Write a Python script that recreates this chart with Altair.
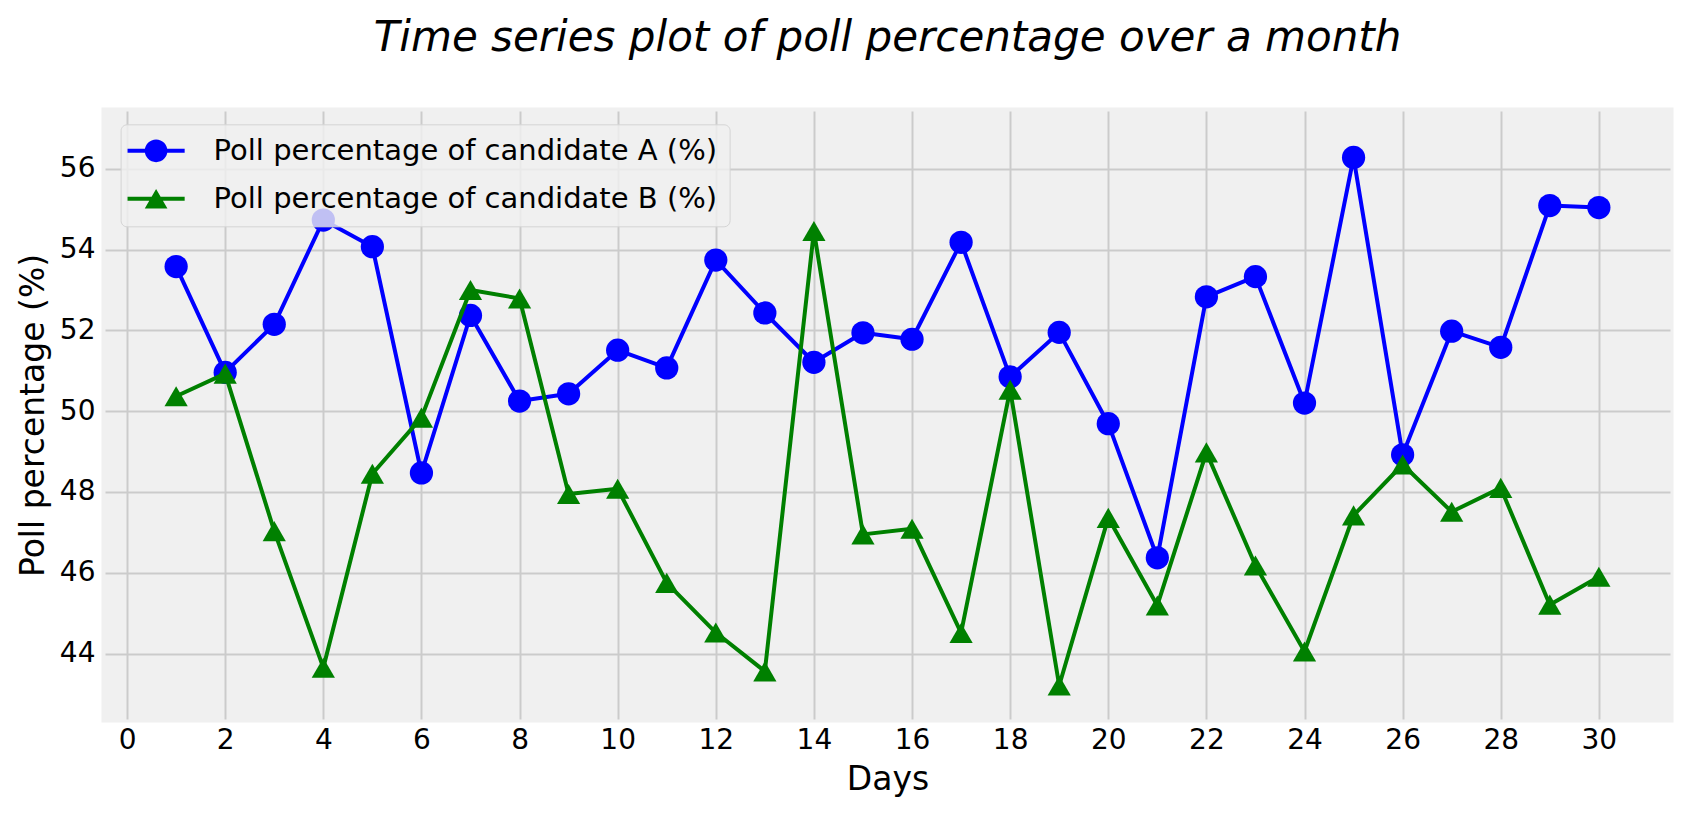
import altair as alt
import pandas as pd

days = list(range(1, 31))
candidate_a = [53.58, 50.96, 52.15, 54.73, 54.07, 48.47, 52.37, 50.25, 50.43, 51.51,
               51.07, 53.74, 52.43, 51.21, 51.94, 51.78, 54.18, 50.85, 51.95, 49.69,
               46.37, 52.83, 53.33, 50.20, 56.28, 48.92, 51.98, 51.58, 55.09, 55.04]
candidate_b = [50.37, 50.93, 47.03, 43.65, 48.45, 49.84, 53.00, 52.79, 47.95, 48.08,
               45.75, 44.52, 43.56, 54.46, 46.95, 47.09, 44.51, 50.53, 43.21, 47.36,
               45.19, 48.98, 46.18, 44.05, 47.42, 48.68, 47.51, 48.10, 45.21, 45.90]
label_a = "Poll percentage of candidate A (%)"
label_b = "Poll percentage of candidate B (%)"
x_ticks = list(range(0, 31, 2))
y_ticks = list(range(44, 57, 2))

df = pd.DataFrame({
    'Days': days * 2,
    'Poll': candidate_a + candidate_b,
    'Series': [label_a] * len(days) + [label_b] * len(days),
})

# legend glyphs: a short bar with the marker sitting on it (filled custom paths,
# drawn larger than the unit square so the legend rows stay compact)
bar = "M-2.04,-0.14L2.04,-0.14L2.04,0.14L-2.04,0.14Z"
path_a = bar + "M-0.81,0A0.81,0.81,0,1,1,0.81,0A0.81,0.81,0,1,1,-0.81,0Z"
path_b = bar + "M0,-0.7L0.81,0.7L-0.81,0.7Z"

legend = alt.Legend(
    title=None, orient='none', legendX=15.6, legendY=13.3, direction='vertical',
    labelFont='DejaVu Sans', labelFontSize=29, labelColor='black', labelOffset=43,
    labelLimit=900, symbolSize=784, symbolOffset=9, symbolStrokeWidth=0, symbolOpacity=1,
    padding=12, rowPadding=18,
    fillColor='rgba(240,240,240,0.8)', strokeColor='#d4d4d4', cornerRadius=6,
)

x_enc = alt.X('Days:Q', scale=alt.Scale(domain=[-0.45, 31.45], nice=False, zero=False),
              axis=alt.Axis(values=x_ticks, title='Days'))
y_enc = alt.Y('Poll:Q', scale=alt.Scale(domain=[42.38, 57.43], nice=False, zero=False),
              axis=alt.Axis(values=y_ticks, title='Poll percentage (%)'))

base = alt.Chart(df).encode(x=x_enc, y=y_enc)
a = base.transform_filter(alt.datum.Series == label_a)
b = base.transform_filter(alt.datum.Series == label_b)

line_a = a.mark_line(strokeWidth=4, strokeJoin='round', color='blue')
point_a = a.mark_point(shape='circle', filled=True, size=540, opacity=1, color='blue')
line_b = b.mark_line(strokeWidth=4, strokeJoin='round', color='green')
point_b = b.mark_point(shape='triangle-up', filled=True, size=540, opacity=1, color='green')

# only there to build the legend; its marks sit above the plot and are clipped away
legend_layer = alt.Chart(df).mark_point(filled=True, size=784, opacity=1, clip=True).encode(
    x=x_enc,
    y=alt.Y(datum=100),
    color=alt.Color('Series:N', scale=alt.Scale(domain=[label_a, label_b], range=['blue', 'green']),
                    legend=legend),
    shape=alt.Shape('Series:N', scale=alt.Scale(domain=[label_a, label_b], range=[path_a, path_b]),
                    legend=legend),
)

chart = alt.layer(line_a, point_a, line_b, point_b, legend_layer).properties(
    width=1565,
    height=608,
    padding={'left': 9, 'top': 9, 'right': 4, 'bottom': 2},
    background='white',
    title=alt.Title('Time series plot of poll percentage over a month',
                    font='DejaVu Sans', fontSize=42, fontStyle='italic',
                    fontWeight='normal', color='black', anchor='middle', offset=51),
).configure_view(
    fill='#f0f0f0', stroke='#f0f0f0', strokeWidth=7
).configure_axis(
    grid=True, gridColor='#cbcbcb', gridWidth=2, domain=False, ticks=False,
    labelFont='DejaVu Sans', labelFontSize=28, labelColor='black',
    titleFont='DejaVu Sans', titleFontSize=33, titleFontWeight='normal', titleColor='black',
).configure_axisX(
    labelPadding=7, titlePadding=9
).configure_axisY(
    labelPadding=10, titlePadding=9
)

chart.save("out.html", embed_options={"renderer": "svg", "actions": False})
